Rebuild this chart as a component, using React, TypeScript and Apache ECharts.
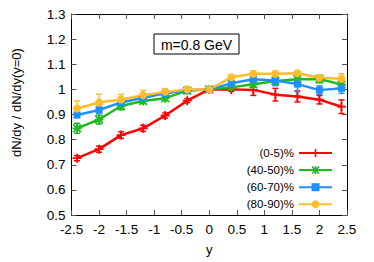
import React, { useEffect, useRef } from "react";
import * as echarts from "echarts";

const rapidity = [-2.4, -2.0, -1.6, -1.2, -0.8, -0.4, 0, 0.4, 0.8, 1.2, 1.6, 2.0, 2.4];

const centralities = ["(0-5)%", "(40-50)%", "(60-70)%", "(80-90)%"];

const ratio0to5 = [0.726, 0.762, 0.818, 0.845, 0.896, 0.955, 1.0, 1.0, 0.998, 0.979, 0.972, 0.959, 0.931];
const err0to5 = [0.01, 0.012, 0.013, 0.012, 0.01, 0.008, 0.003, 0.008, 0.022, 0.025, 0.022, 0.017, 0.027];

const ratio40to50 = [0.845, 0.88, 0.934, 0.954, 0.965, 0.995, 1.0, 1.008, 1.02, 1.033, 1.04, 1.041, 1.019];
const err40to50 = [0.02, 0.018, 0.015, 0.01, 0.01, 0.008, 0.003, 0.01, 0.012, 0.015, 0.015, 0.015, 0.015];

const ratio60to70 = [0.898, 0.918, 0.948, 0.967, 0.984, 0.997, 1.0, 1.024, 1.04, 1.035, 1.021, 0.997, 1.004];
const err60to70 = [0.01, 0.012, 0.01, 0.01, 0.008, 0.005, 0.003, 0.01, 0.015, 0.02, 0.03, 0.017, 0.02];

const ratio80to90 = [0.924, 0.948, 0.96, 0.977, 0.99, 1.0, 1.0, 1.048, 1.062, 1.062, 1.064, 1.046, 1.042];
const err80to90 = [0.03, 0.033, 0.02, 0.019, 0.013, 0.008, 0.003, 0.008, 0.012, 0.01, 0.01, 0.012, 0.02];

const xTicks = { min: -2.5, max: 2.5, interval: 0.5 };
const yTicks = { min: 0.5, max: 1.3, interval: 0.1 };

const xTitle = "y";
const yTitle = "dN/dy / dN/dy(y=0)";
const boxLabel = "m=0.8 GeV";

const colors = ["#ff0000", "#1fba1f", "#1e8fff", "#ffbd2e"];

const PLUS = "path://M4,0h2v4h4v2h-4v4h-2v-4h-4v-2h4z";
const STAR =
  "path://M4,0h2v4h4v2h-4v4h-2v-4h-4v-2h4zM0,1.4L1.4,0L10,8.6L8.6,10ZM8.6,0L10,1.4L1.4,10L0,8.6Z";
const symbols = [PLUS, STAR, "rect", "circle"];
const symbolSizes = [9, 9, 7, 8];

const FONT = "Liberation Sans, Arial, sans-serif";

export default function App() {
  const ref = useRef<HTMLDivElement>(null);
  useEffect(() => {
    if (!ref.current) return;
    const chart = echarts.init(ref.current, null, { renderer: "svg" });
    const values = [ratio0to5, ratio40to50, ratio60to70, ratio80to90];
    const errors = [err0to5, err40to50, err60to70, err80to90];
    const series: any[] = [];
    centralities.forEach((name, i) => {
      series.push({
        type: "custom",
        name: name + " err",
        data: rapidity.map((x, k) => [x, values[i][k] - errors[i][k], values[i][k] + errors[i][k]]),
        renderItem: (params: any, api: any) => {
          const x = api.value(0);
          const lo = api.coord([x, api.value(1)]);
          const hi = api.coord([x, api.value(2)]);
          const w = 3;
          const st = { stroke: colors[i], lineWidth: 1.5 };
          return {
            type: "group",
            children: [
              { type: "line", shape: { x1: lo[0], y1: lo[1], x2: hi[0], y2: hi[1] }, style: st },
              { type: "line", shape: { x1: lo[0] - w, y1: lo[1], x2: lo[0] + w, y2: lo[1] }, style: st },
              { type: "line", shape: { x1: hi[0] - w, y1: hi[1], x2: hi[0] + w, y2: hi[1] }, style: st },
            ],
          };
        },
        encode: { x: 0, y: [1, 2] },
        silent: true,
      });
      series.push({
        type: "line",
        name,
        data: rapidity.map((x, k) => [x, values[i][k]]),
        symbol: symbols[i],
        symbolSize: symbolSizes[i],
        showAllSymbol: true,
        itemStyle: { color: colors[i] },
        lineStyle: { color: colors[i], width: 2.5 },
      });
    });

    const axisCommon = {
      axisLine: { show: true, onZero: false, lineStyle: { color: "#000", width: 1 } },
      axisTick: { show: true, inside: true, length: 5, lineStyle: { color: "#555" } },
      splitLine: { show: false },
    };

    chart.setOption({
      animation: false,
      backgroundColor: "#fff",
      grid: { left: 71.5, right: 27, top: 14, bottom: 47 },
      xAxis: [
        {
          type: "value",
          ...xTicks,
          ...axisCommon,
          name: xTitle,
          nameLocation: "middle",
          nameGap: 28,
          nameTextStyle: { fontFamily: FONT, fontSize: 13, color: "#000" },
          axisLabel: { fontFamily: FONT, fontSize: 13.5, color: "#000", margin: 7 },
        },
        {
          type: "value",
          position: "top",
          ...xTicks,
          ...axisCommon,
          axisLabel: { show: false },
        },
      ],
      yAxis: [
        {
          type: "value",
          ...yTicks,
          ...axisCommon,
          axisLabel: { fontFamily: FONT, fontSize: 13.5, color: "#000", margin: 6 },
        },
        {
          type: "value",
          position: "right",
          ...yTicks,
          ...axisCommon,
          axisLabel: { show: false },
        },
      ],
      legend: {
        data: centralities,
        orient: "vertical",
        align: "right",
        right: 41,
        top: 147,
        itemWidth: 33,
        itemHeight: 10,
        itemGap: 5.1,
        padding: 0,
        textStyle: { fontFamily: FONT, fontSize: 11.5, lineHeight: 10, color: "#000" },
      },
      graphic: [
        {
          type: "text",
          x: 16,
          y: 102.5,
          rotation: Math.PI / 2,
          style: {
            text: yTitle,
            fontFamily: FONT,
            fontSize: 13,
            fill: "#000",
            align: "center",
            verticalAlign: "middle",
          },
        },
        {
          type: "rect",
          shape: { x: 154, y: 34, width: 85, height: 20 },
          style: { fill: "#fff", stroke: "#000", lineWidth: 1 },
        },
        {
          type: "text",
          x: 196.5,
          y: 44.5,
          style: {
            text: boxLabel,
            fontFamily: FONT,
            fontSize: 14,
            fill: "#000",
            align: "center",
            verticalAlign: "middle",
          },
        },
      ],
      series,
    });
    return () => chart.dispose();
  }, []);
  return <div ref={ref} style={{ position: "absolute", left: 0, top: 0, width: 374, height: 262 }} />;
}
